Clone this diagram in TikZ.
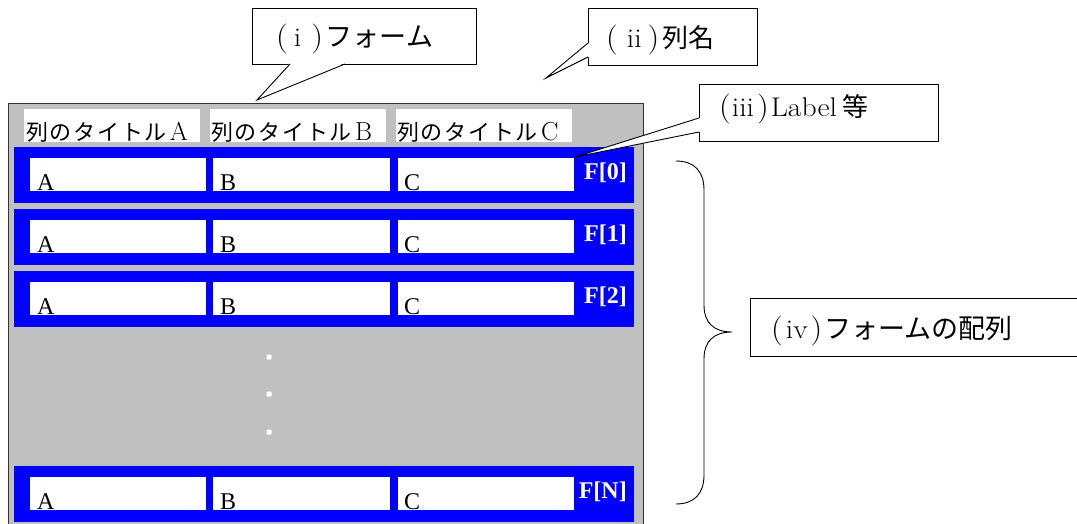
\documentclass[tikz,border=0pt]{standalone}
\usepackage{fontspec}
\newfontfamily\jp{Noto Sans CJK JP}
\newfontfamily\jpt[LetterSpace=8]{Noto Sans CJK JP}
\newfontfamily\tms{Liberation Serif}
\newfontfamily\cen[FakeStretch=1.1]{Latin Modern Roman}
\newcommand{\lpar}{{\fontsize{30}{30}\selectfont(}}
\newcommand{\rpar}{{\fontsize{30}{30}\selectfont)}}
\definecolor{silver}{RGB}{192,192,192}
\definecolor{pureblue}{RGB}{0,0,255}
\begin{document}
\begin{tikzpicture}[x=1pt,y=-1pt,
  formbox/.style={draw=black!80, line width=1pt, fill=silver, inner sep=0, anchor=north west},
  rowbar/.style={fill=pureblue, inner sep=0, anchor=north west, minimum width=620pt, minimum height=56pt},
  cellbox/.style={fill=white, inner sep=0, anchor=north west, minimum height=33pt},
  titlebox/.style={fill=white, inner sep=0, anchor=north west, minimum height=33pt},
  celltext/.style={inner sep=0, anchor=base west, font=\tms\fontsize{24}{24}\selectfont},
  titletext/.style={inner sep=0, anchor=base west, font=\fontsize{26}{26}\selectfont},
  flabel/.style={inner sep=0, anchor=base east, text=white, font=\tms\bfseries\fontsize{24}{24}\selectfont},
  callout/.style={draw=black, line width=0.9pt, fill=white, inner sep=0, anchor=north west},
  callouttext/.style={inner sep=0, anchor=base west, font=\cen\fontsize{27}{27}\selectfont},
  dotmark/.style={fill=white, inner sep=0, minimum size=5pt, rounded corners=0.8pt},
  ptr/.style={draw=black, line width=0.9pt, line join=miter}
]
\useasboundingbox (0,0) rectangle (1077,524);
\clip (0,0) rectangle (1077,524);

% form
\node[formbox, minimum width=635pt, minimum height=440pt] (form) at (8,103) {};

% column titles
\node[titlebox, minimum width=176pt] (ta) at (24,109) {};
\node[titlebox, minimum width=176pt] (tb) at (210,109) {};
\node[titlebox, minimum width=176pt] (tc) at (396,109) {};
\node[titletext] (tat) at (26,141) {{\jpt\fontsize{22}{22}\selectfont 列のタイトル}\hspace{3pt}A};
\node[titletext] (tbt) at (211,141) {{\jpt\fontsize{22}{22}\selectfont 列のタイトル}\hspace{3pt}B};
\node[titletext] (tct) at (397,141) {{\jpt\fontsize{22}{22}\selectfont 列のタイトル}\hspace{3pt}C};

% rows
\foreach \r/\y in {0/147,1/209,2/271,N/466} {
  \node[rowbar] (row\r) at (14,\y) {};
  \node[cellbox, minimum width=176pt] (row\r a) at (30,{\y+11}) {};
  \node[cellbox, minimum width=177pt] (row\r b) at (213,{\y+11}) {};
  \node[cellbox, minimum width=176pt] (row\r c) at (398,{\y+11}) {};
  \node[celltext] (row\r at) at (37,{\y+43}) {A};
  \node[celltext] (row\r bt) at (220,{\y+43}) {B};
  \node[celltext] (row\r ct) at (404,{\y+43}) {C};
  \node[flabel] (row\r f) at (627,{\y+32}) {F[\r]};
}

% dots
\node[dotmark] (d1) at (269,357) {};
\node[dotmark] (d2) at (269,394) {};
\node[dotmark] (d3) at (269,432) {};

% callout (i)
\node[callout, minimum width=224pt, minimum height=56pt] (c1) at (252,8) {};
\coordinate (c1tip) at (257,100);
\fill[white] (290,63) -- (c1tip) -- (345,63) -- cycle;
\draw[ptr] (290,64) -- (c1tip) -- (345,64);
\node[callouttext] (c1t) at (276,47) {\lpar\hspace{6pt}i\hspace{10pt}\rpar\hspace{3pt}{\jp フォーム}};

% callout (ii)
\node[callout, minimum width=169pt, minimum height=57pt] (c2) at (588,8) {};
\coordinate (c2tip) at (546,78);
\fill[white] (589,43) -- (c2tip) -- (589,57) -- cycle;
\draw[ptr] (588,43) -- (c2tip) -- (588,57);
\node[callouttext] (c2t) at (606,48) {\lpar\hspace{9pt}ii\hspace{6pt}\rpar\hspace{3pt}{\jp\fontsize{26}{26}\selectfont 列名}};

% callout (iii)
\node[callout, minimum width=239pt, minimum height=57pt] (c3) at (699,84) {};
\coordinate (c3tip) at (575,157);
\fill[white] (700,118) -- (c3tip) -- (700,132) -- cycle;
\draw[ptr] (699,118) -- (c3tip) -- (699,132);
\node[callouttext] (c3t) at (719,117) {\lpar\hspace{1pt}iii\hspace{3pt}\rpar\hspace{2pt}Label\hspace{5pt}{\jp\fontsize{26}{26}\selectfont 等}};

% callout (iv)
\node[callout, minimum width=340pt, minimum height=58pt] (c4) at (750,298) {};
\node[callouttext] (c4t) at (771,338) {\lpar\hspace{3pt}iv\hspace{3pt}\rpar\hspace{2pt}{\jp フォームの配列}};

% brace
\draw[line width=0.9pt] (676,161) .. controls (695,161) and (704,172) .. (704,190)
  -- (704,305) .. controls (704,323) and (714,332) .. (732,332)
  .. controls (714,332) and (704,341) .. (704,359)
  -- (704,475) .. controls (704,493) and (695,504) .. (676,504);
\end{tikzpicture}
\end{document}
